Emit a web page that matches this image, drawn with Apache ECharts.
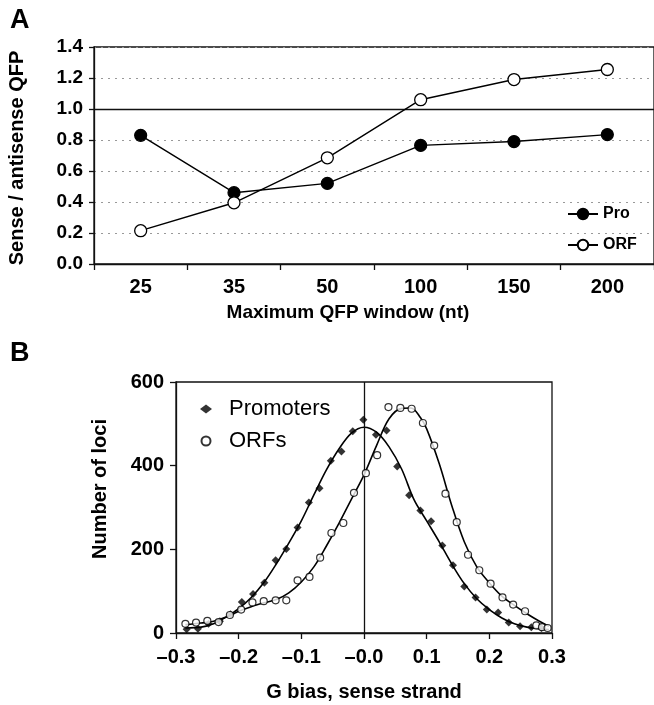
<!DOCTYPE html>
<html>
<head>
<meta charset="utf-8">
<script src="https://cdn.jsdelivr.net/npm/echarts@6/dist/echarts.min.js"></script>
<style>
html,body{margin:0;padding:0;background:#fff;}
#chart{width:654px;height:705px;}
</style>
</head>
<body>
<div id="chart"></div>
<script>
// Panel A data
const catsA = ['25', '35', '50', '100', '150', '200'];
const proA = [0.83, 0.46, 0.52, 0.765, 0.79, 0.835];
const orfA = [0.215, 0.395, 0.685, 1.06, 1.19, 1.255];

// Panel B data (points)
const promBias = [-0.283,-0.265,-0.248,-0.230,-0.213,-0.195,-0.177,-0.159,-0.141,-0.124,-0.106,-0.088,-0.071,-0.053,-0.036,-0.018,-0.001,0.019,0.036,0.053,0.072,0.090,0.107,0.125,0.142,0.160,0.178,0.196,0.214,0.231,0.249,0.267,0.283];
const promCount = [9,10,22,28,45,74,93,120,174,201,252,312,346,412,434,482,510,474,484,398,329,293,267,209,162,111,85,56,49,25,16,14,12];
const orfBias = [-0.285,-0.268,-0.250,-0.232,-0.214,-0.196,-0.178,-0.160,-0.141,-0.124,-0.106,-0.087,-0.070,-0.052,-0.033,-0.016,0.003,0.021,0.039,0.058,0.076,0.094,0.112,0.130,0.148,0.166,0.184,0.202,0.221,0.238,0.257,0.275,0.284,0.293];
const orfCount = [22,25,29,26,43,56,73,76,78,78,126,134,180,239,263,335,382,425,540,538,536,502,448,333,265,187,150,118,85,68,52,18,14,12];

// Panel B fitted curves
const promFitX = [-0.285,-0.26,-0.24,-0.22,-0.20,-0.18,-0.16,-0.14,-0.12,-0.10,-0.08,-0.06,-0.04,-0.02,0,0.02,0.04,0.06,0.08,0.10,0.12,0.14,0.16,0.18,0.20,0.22,0.24,0.26,0.28,0.295];
const promFitY = [12,14,22,38,58,85,120,165,215,268,330,390,440,478,492,480,445,392,318,268,218,165,118,82,56,36,22,14,10,8];
const orfFitX = [-0.285,-0.26,-0.24,-0.22,-0.20,-0.18,-0.16,-0.14,-0.12,-0.10,-0.08,-0.06,-0.04,-0.02,0,0.02,0.04,0.06,0.075,0.09,0.10,0.12,0.14,0.16,0.18,0.20,0.22,0.24,0.26,0.28,0.295];
const orfFitY = [20,24,28,38,52,63,72,80,96,122,158,208,262,320,378,448,512,537,538,515,488,405,305,218,158,120,88,66,46,28,16];

const xTickLabelsB = ['\u20130.3', '\u20130.2', '\u20130.1', '\u20130.0', '0.1', '0.2', '0.3'];

const FONT = '"Liberation Sans", Arial, sans-serif';
const zip = (a, b) => a.map((v, i) => [v, b[i]]);

const chart = echarts.init(document.getElementById('chart'), null, {renderer: 'canvas'});

const option = {
  animation: false,
  backgroundColor: '#fff',
  textStyle: {fontFamily: FONT, color: '#000'},
  grid: [
    {left: 94, top: 47, width: 561, height: 217, show: true, borderColor: '#111', borderWidth: 1.3, backgroundColor: 'transparent'},
    {left: 176, top: 382, width: 376, height: 251, show: true, borderColor: '#111', borderWidth: 1.3, backgroundColor: 'transparent'}
  ],
  xAxis: [
    {
      gridIndex: 0, type: 'category', data: catsA, boundaryGap: true,
      axisLine: {lineStyle: {color: '#111', width: 1.3}},
      axisTick: {show: true, alignWithLabel: false, length: 6, lineStyle: {color: '#111', width: 1.3}},
      axisLabel: {fontFamily: FONT, fontWeight: 'bold', fontSize: 20, color: '#000', margin: 13},
      splitLine: {show: false}
    },
    {
      gridIndex: 1, type: 'value', min: -0.3, max: 0.3, interval: 0.1,
      axisLine: {onZero: false, lineStyle: {color: '#111', width: 1.3}},
      axisTick: {show: true, length: 6, lineStyle: {color: '#111', width: 1.3}},
      axisLabel: {
        fontFamily: FONT, fontWeight: 'bold', fontSize: 20, color: '#000', margin: 14,
        formatter: v => xTickLabelsB[Math.round((v + 0.3) * 10)]
      },
      splitLine: {show: false}
    }
  ],
  yAxis: [
    {
      gridIndex: 0, type: 'value', min: 0, max: 1.4, interval: 0.2,
      axisLine: {show: true, lineStyle: {color: '#111', width: 1.3}},
      axisTick: {show: true, length: 5, lineStyle: {color: '#111', width: 1.3}},
      axisLabel: {fontFamily: FONT, fontWeight: 'bold', fontSize: 19, color: '#000', margin: 11, formatter: v => v.toFixed(1)},
      splitLine: {show: true, lineStyle: {color: '#999', width: 1, type: [2, 5]}}
    },
    {
      gridIndex: 1, type: 'value', min: 0, max: 600, interval: 200,
      axisLine: {show: true, onZero: false, lineStyle: {color: '#111', width: 1.3}},
      axisTick: {show: true, length: 6, lineStyle: {color: '#111', width: 1.3}},
      axisLabel: {fontFamily: FONT, fontWeight: 'bold', fontSize: 20, color: '#000', margin: 12},
      splitLine: {show: false}
    }
  ],
  legend: [
    {
      data: ['Pro', 'ORF'], orient: 'vertical', left: 562, top: 201,
      itemWidth: 30, itemHeight: 13, itemGap: 15,
      textStyle: {fontFamily: FONT, fontWeight: 'bold', fontSize: 16, color: '#000', padding: [0, 0, 0, 0]}
    },
    {
      data: ['Promoters', 'ORFs'], orient: 'vertical', left: 195, top: 393,
      itemWidth: 12, itemHeight: 9, itemGap: 10,
      textStyle: {fontFamily: FONT, fontSize: 22, color: '#000', padding: [0, 0, 0, 12]}
    }
  ],
  series: [
    {
      name: 'Pro', type: 'line', xAxisIndex: 0, yAxisIndex: 0, data: proA,
      symbol: 'circle', symbolSize: 12, z: 5,
      lineStyle: {color: '#000', width: 1.4},
      itemStyle: {color: '#000', borderColor: '#000', borderWidth: 1.2},
      markLine: {
        silent: true, symbol: ['none', 'none'], label: {show: false},
        lineStyle: {color: '#111', width: 1.3, type: 'solid'},
        data: [{yAxis: 1.0}]
      }
    },
    {
      name: 'ORF', type: 'line', xAxisIndex: 0, yAxisIndex: 0, data: orfA,
      symbol: 'circle', symbolSize: 12, z: 5,
      lineStyle: {color: '#000', width: 1.4},
      itemStyle: {color: '#fff', borderColor: '#000', borderWidth: 1.3}
    },
    {
      name: 'promFit', type: 'line', xAxisIndex: 1, yAxisIndex: 1, data: zip(promFitX, promFitY),
      smooth: 0.35, showSymbol: false, symbol: 'none', z: 3,
      lineStyle: {color: '#000', width: 1.6},
      markLine: {
        silent: true, symbol: ['none', 'none'], label: {show: false},
        lineStyle: {color: '#111', width: 1.3, type: 'solid'},
        data: [{xAxis: 0}]
      }
    },
    {
      name: 'orfFit', type: 'line', xAxisIndex: 1, yAxisIndex: 1, data: zip(orfFitX, orfFitY),
      smooth: 0.35, showSymbol: false, symbol: 'none', z: 3,
      lineStyle: {color: '#000', width: 1.6}
    },
    {
      name: 'Promoters', type: 'scatter', xAxisIndex: 1, yAxisIndex: 1, data: zip(promBias, promCount),
      symbol: 'diamond', symbolSize: 8, z: 6,
      itemStyle: {color: '#000'}
    },
    {
      name: 'ORFs', type: 'scatter', xAxisIndex: 1, yAxisIndex: 1, data: zip(orfBias, orfCount),
      symbol: 'circle', symbolSize: 7, z: 6,
      itemStyle: {color: '#fff', borderColor: '#000', borderWidth: 1.2}
    }
  ],
  graphic: [
    {type: 'text', left: 10, top: 7, style: {text: 'A', font: 'bold 27px ' + FONT, fill: '#000'}},
    {type: 'text', left: 10, top: 340, style: {text: 'B', font: 'bold 27px ' + FONT, fill: '#000'}},
    {type: 'text', x: 17, y: 158, rotation: Math.PI / 2,
      style: {text: 'Sense / antisense QFP', font: 'bold 20px ' + FONT, fill: '#000', textAlign: 'center', textVerticalAlign: 'middle'}},
    {type: 'text', x: 348, y: 313,
      style: {text: 'Maximum QFP window (nt)', font: 'bold 19px ' + FONT, fill: '#000', textAlign: 'center', textVerticalAlign: 'middle'}},
    {type: 'text', x: 100, y: 489, rotation: Math.PI / 2,
      style: {text: 'Number of loci', font: 'bold 20px ' + FONT, fill: '#000', textAlign: 'center', textVerticalAlign: 'middle'}},
    {type: 'text', x: 364, y: 692,
      style: {text: 'G bias, sense strand', font: 'bold 20px ' + FONT, fill: '#000', textAlign: 'center', textVerticalAlign: 'middle'}}
  ]
};
chart.setOption(option);
</script>
</body>
</html>
